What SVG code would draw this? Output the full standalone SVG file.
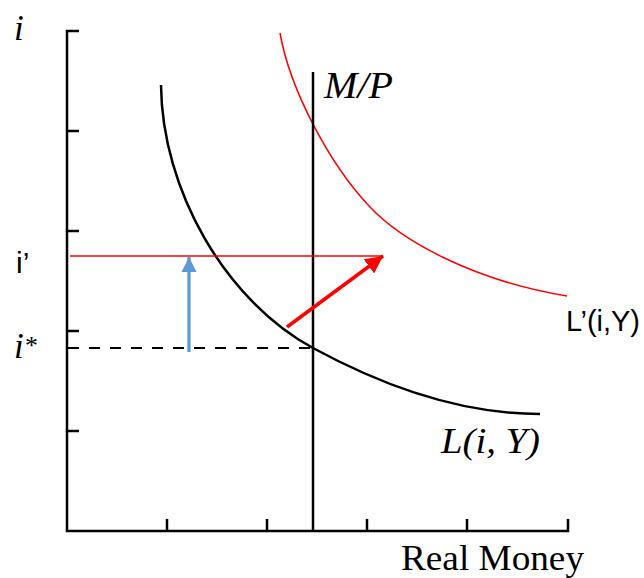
<svg xmlns="http://www.w3.org/2000/svg" width="644" height="578" viewBox="0 0 644 578">
<style>
.ax{stroke:#000;stroke-width:2.5;fill:none}
.serif{font-family:"Liberation Serif","DejaVu Serif",serif;fill:#000}
.it{font-style:italic}
.sans{font-family:"Liberation Sans","DejaVu Sans",sans-serif;fill:#000}
</style>
<defs>
<marker id="blueHead" viewBox="0 0 10 10" refX="10" refY="5" markerWidth="4.6" markerHeight="4.6" orient="auto" markerUnits="strokeWidth">
<path d="M0,0 L10,5 L0,10 z" fill="#5B9BD5"/>
</marker>
<marker id="redHead" viewBox="0 0 10 10" refX="10" refY="5" markerWidth="5" markerHeight="5" orient="auto" markerUnits="strokeWidth">
<path d="M0,0 L10,5 L0,10 z" fill="#FF0000"/>
</marker>
</defs>
<rect width="644" height="578" fill="#fff"/>
<g id="axes">
<path class="ax" d="M79,31 H67 V531 H568 V519"/>
<path class="ax" d="M67,131 H79 M67,231 H79 M67,331 H79 M67,431 H79"/>
<path class="ax" d="M167,531 V519 M267,531 V519 M367,531 V519 M467,531 V519"/>
</g>
<g id="labels">
<text class="serif it" x="14" y="40" font-size="35">i</text>
<text class="sans" x="16" y="273" font-size="30">i’</text>
<text class="serif it" x="14" y="358" font-size="35">i<tspan font-size="26" dy="-4">*</tspan></text>
<text class="serif it" x="324" y="98" font-size="37" textLength="69" lengthAdjust="spacingAndGlyphs">M/P</text>
<text class="serif it" x="441" y="453" font-size="35" textLength="99" lengthAdjust="spacingAndGlyphs">L(i, Y)</text>
<text class="sans" x="566" y="331" font-size="29" textLength="74" lengthAdjust="spacingAndGlyphs">L’(i,Y)</text>
<text class="serif" x="401" y="570" font-size="35" textLength="183" lengthAdjust="spacingAndGlyphs">Real Money</text>
</g>
<g id="curves">
<path id="L" d="M161,85 C162,190 225,300 313,348 C392,391 470,414 540,414" stroke="#000" stroke-width="2.5" fill="none"/>
<path id="Lprime" d="M280,33 C290,90 330,165 370,207 C400,239 470,280 567,296" stroke="#FF0000" stroke-width="1.5" fill="none"/>
<line id="MP" x1="313" y1="72" x2="313" y2="531" stroke="#000" stroke-width="2.5"/>
</g>
<g id="connectors">
<line x1="70" y1="256" x2="383" y2="256" stroke="#FF0000" stroke-width="1.5"/>
<line x1="68" y1="348" x2="313" y2="348" stroke="#000" stroke-width="2" stroke-dasharray="11,10"/>
<line x1="189" y1="352" x2="189" y2="257" stroke="#5B9BD5" stroke-width="3.3" marker-end="url(#blueHead)"/>
<line x1="287" y1="327" x2="383" y2="256" stroke="#FF0000" stroke-width="3.5" marker-end="url(#redHead)"/>
</g>
</svg>
